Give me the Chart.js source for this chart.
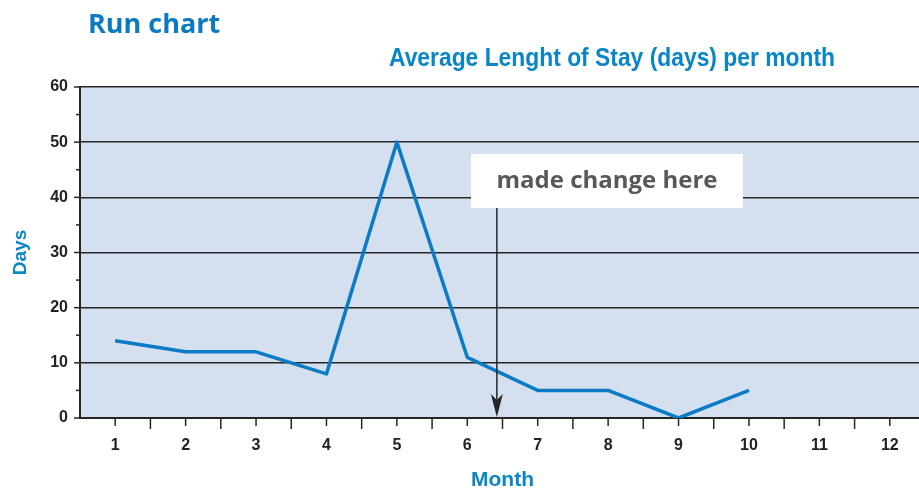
<!DOCTYPE html>
<html>
<head>
<meta charset="utf-8">
<script src="https://cdn.jsdelivr.net/npm/chart.js@4"></script>
<style>
  html, body { margin: 0; padding: 0; background: #fff; overflow: hidden; }
  #wrap { position: relative; width: 925px; height: 490px; }
  #title { position: absolute; left: 88px; top: 4px; font: 700 27px 'Open Sans', sans-serif; color: #0a7bc1; white-space: nowrap; }
  #subtitle { position: absolute; left: 389px; top: 42px; font: 700 25px 'Liberation Sans', Arial, sans-serif; color: #0a86c8; white-space: nowrap; transform-origin: 0 0; line-height: 30px; }
</style>
</head>
<body>
<div id="wrap">
  <canvas id="runChart" width="925" height="490"></canvas>
  <div id="title">Run chart</div>
  <div id="subtitle">Average Lenght of Stay (days) per month</div>
</div>
<script>
const months = ['1', '2', '3', '4', '5', '6', '7', '8', '9', '10', '11', '12'];
const stayDays = [14, 12, 12, 8, 50, 11, 5, 5, 0, 5, null, null];
const yTicks = [0, 10, 20, 30, 40, 50, 60];

const sans = "'Liberation Sans', Arial, sans-serif";
const ink = '#262626';

// squeeze the subtitle into a condensed look
const sub = document.getElementById('subtitle');
sub.style.transform = 'scaleX(' + (446 / sub.getBoundingClientRect().width) + ')';

// shaded plot background
const plotBg = {
  id: 'plotBg',
  beforeDraw(chart) {
    const { ctx, chartArea: a } = chart;
    ctx.save();
    ctx.fillStyle = '#d4dff0';
    ctx.fillRect(a.left, a.top, a.right - a.left, a.bottom - a.top);
    ctx.restore();
  }
};

// tick marks outside the axes, plus the note and arrow
const extras = {
  id: 'extras',
  afterDraw(chart) {
    const { ctx, chartArea: a, scales: { x, y } } = chart;
    ctx.save();
    ctx.strokeStyle = ink;
    ctx.lineWidth = 1.5;
    const step = x.getPixelForValue(1) - x.getPixelForValue(0);
    months.forEach((m, i) => {
      const px = x.getPixelForValue(i);
      ctx.beginPath(); ctx.moveTo(px, a.bottom); ctx.lineTo(px, a.bottom + 8); ctx.stroke();
      const bx = px + step / 2;
      ctx.beginPath(); ctx.moveTo(bx, a.bottom); ctx.lineTo(bx, a.bottom + 11); ctx.stroke();
    });
    for (let v = 0; v <= 60; v += 5) {
      const py = y.getPixelForValue(v);
      const len = v % 10 === 0 ? 6 : 4;
      ctx.beginPath(); ctx.moveTo(a.left, py); ctx.lineTo(a.left - len, py); ctx.stroke();
    }

    // "made change here" note with arrow between months 6 and 7
    const ax = x.getPixelForValue(5) + step * 0.42;
    const boxL = 471, boxT = 154, boxW = 272, boxH = 54;
    ctx.fillStyle = '#ffffff';
    ctx.fillRect(boxL, boxT, boxW, boxH);
    ctx.fillStyle = '#58585a';
    ctx.font = "700 24px 'Open Sans', sans-serif";
    ctx.textAlign = 'center';
    ctx.textBaseline = 'middle';
    ctx.fillText('made change here', boxL + boxW / 2, boxT + boxH / 2);

    ctx.strokeStyle = ink;
    ctx.lineWidth = 1.5;
    ctx.beginPath(); ctx.moveTo(ax, boxT + boxH); ctx.lineTo(ax, a.bottom - 16); ctx.stroke();
    ctx.fillStyle = ink;
    ctx.beginPath();
    ctx.moveTo(ax - 6, a.bottom - 24);
    ctx.lineTo(ax, a.bottom - 18);
    ctx.lineTo(ax + 6, a.bottom - 24);
    ctx.lineTo(ax, a.bottom - 1);
    ctx.closePath();
    ctx.fill();
    ctx.restore();
  }
};

new Chart(document.getElementById('runChart'), {
  type: 'line',
  data: {
    labels: months,
    datasets: [{
      data: stayDays,
      borderColor: '#0a7bc4',
      borderWidth: 3.5,
      borderJoinStyle: 'round',
      pointRadius: 0,
      tension: 0,
      fill: false
    }]
  },
  options: {
    responsive: false,
    animation: false,
    layout: { padding: { top: 87, left: 0, right: 0, bottom: 0 } },
    plugins: { legend: { display: false }, tooltip: { enabled: false } },
    scales: {
      x: {
        offset: true,
        afterFit: s => { s.height = 72; },
        grid: { display: false, drawTicks: false },
        border: { display: true, color: ink, width: 2 },
        ticks: { color: '#222', padding: 18, font: { family: sans, size: 16, weight: 'bold' } },
        title: { display: true, text: 'Month', color: '#0a86c8', padding: { top: 0, bottom: -3 }, font: { family: sans, size: 21, weight: 'bold' } }
      },
      y: {
        min: 0,
        max: 60,
        afterFit: s => { s.width = 80; },
        afterBuildTicks: s => { s.ticks = yTicks.map(v => ({ value: v })); },
        grid: { color: ink, lineWidth: 1.5, drawTicks: false },
        border: { display: true, color: ink, width: 2 },
        ticks: { color: '#222', padding: 12, font: { family: sans, size: 16, weight: 'bold' } },
        title: { display: true, text: 'Days', color: '#0a86c8', padding: { top: 9, bottom: 0 }, font: { family: sans, size: 19, weight: 'bold' } }
      }
    }
  },
  plugins: [plotBg, extras]
});
</script>
</body>
</html>
